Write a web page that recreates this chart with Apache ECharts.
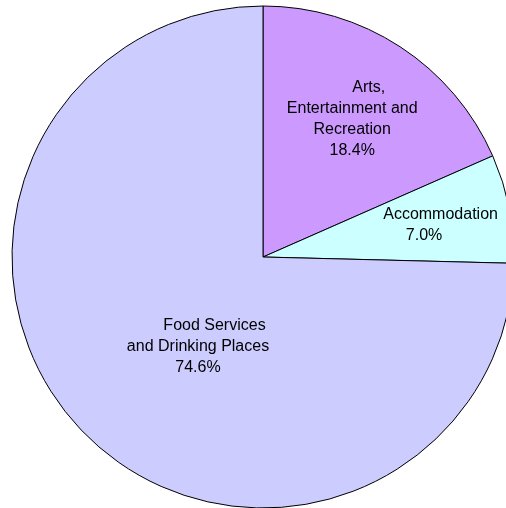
<!DOCTYPE html>
<html>
<head>
<meta charset="utf-8">
<style>
  html, body { margin: 0; padding: 0; background: #fff; }
  #chart { width: 506px; height: 508px; }
</style>
<script src="https://cdn.jsdelivr.net/npm/echarts@6/dist/echarts.min.js"></script>
</head>
<body>
<div id="chart"></div>
<script>
// Share of spending by industry segment (percent)
const categories = ['Arts, Entertainment and Recreation', 'Accommodation', 'Food Services and Drinking Places'];
const shares = [18.4, 7.0, 74.6];
const sliceColors = ['#CC99FF', '#CCFFFF', '#CCCCFF'];
// Wrapped label lines for each slice (value line is appended)
const labelLines = [
  ['Arts,', 'Entertainment and', 'Recreation'],
  ['Accommodation'],
  ['Food Services', 'and Drinking Places']
];

// Nudges of each inside label from its default spot
const labelShift = [[19, -30], [35, -7], [27, 0]];

const chart = echarts.init(document.getElementById('chart'), null, { renderer: 'canvas' });

const data = categories.map((name, i) => ({
  name: name,
  value: shares[i],
  itemStyle: { color: sliceColors[i] }
}));

chart.setOption({
  animation: false,
  series: [{
    type: 'pie',
    center: [263, 257],
    radius: [0, 251],
    startAngle: 90,
    clockwise: true,
    avoidLabelOverlap: false,
    itemStyle: { borderColor: '#000', borderWidth: 1 },
    emphasis: { disabled: true },
    labelLine: { show: false },
    label: {
      show: true,
      position: 'inside',
      color: '#000',
      fontFamily: 'Liberation Sans, Arial, sans-serif',
      fontSize: 16,
      lineHeight: 21,
      formatter: function (p) {
        const lines = labelLines[p.dataIndex];
        const out = lines.map((t, k) => k === 0 ? '{f|' + t + '}' : '{n|' + t + '}');
        out.push('{n|' + shares[p.dataIndex].toFixed(1) + '%}');
        return out.join('\n');
      },
      rich: {
        f: { fontSize: 16, lineHeight: 21, color: '#000', fontFamily: 'Liberation Sans, Arial, sans-serif', padding: [0, 0, 0, 33] },
        n: { fontSize: 16, lineHeight: 21, color: '#000', fontFamily: 'Liberation Sans, Arial, sans-serif' }
      }
    },
    labelLayout: function (params) {
      const s = labelShift[params.dataIndex];
      return { dx: s[0], dy: s[1] };
    },
    data: data
  }]
});
</script>
</body>
</html>
